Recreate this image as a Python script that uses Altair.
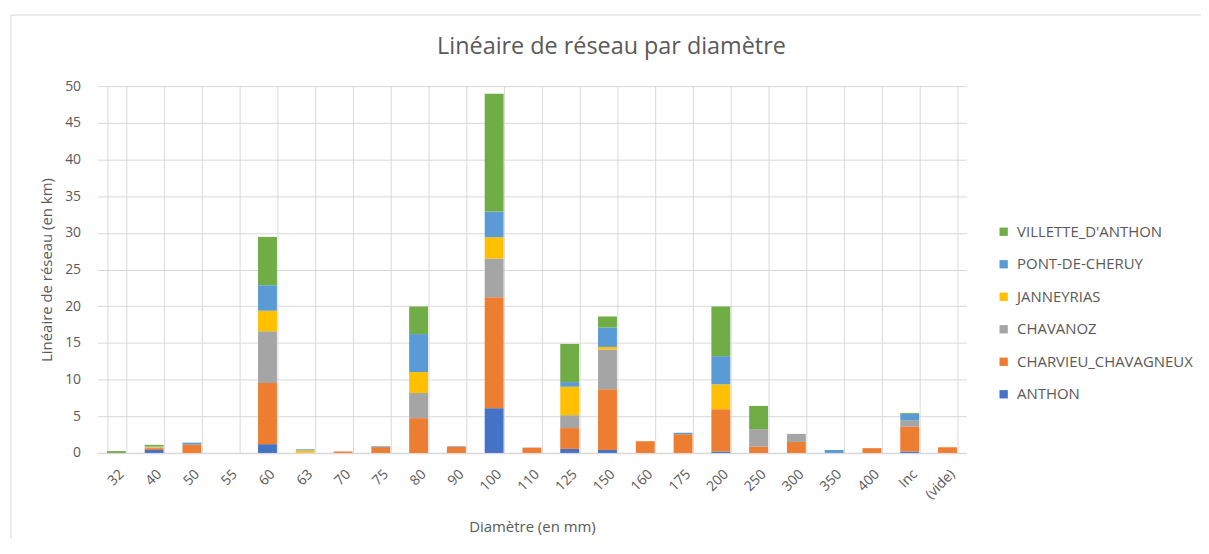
import altair as alt
import pandas as pd

categories = ["32", "40", "50", "55", "60", "63", "70", "75", "80", "90", "100", "110",
              "125", "150", "160", "175", "200", "250", "300", "350", "400", "Inc", "(vide)"]

ANTHON = [0, 0.4, 0, 0, 1.2, 0, 0, 0, 0, 0, 6.1, 0, 0.55, 0.4, 0, 0, 0.2, 0, 0, 0, 0, 0.2, 0]
CHARVIEU_CHAVAGNEUX = [0, 0.25, 1.15, 0, 8.33, 0.05, 0.2, 0.8, 4.74, 0.85, 15.13, 0.7, 2.84, 8.27,
                       1.6, 2.55, 5.76, 0.86, 1.5, 0, 0.65, 3.37, 0.77]
CHAVANOZ = [0, 0.1, 0, 0, 7.04, 0, 0, 0, 3.43, 0.05, 5.27, 0.05, 1.76, 5.43, 0, 0, 0, 2.39, 1.1,
            0, 0, 0.9, 0]
JANNEYRIAS = [0, 0.1, 0, 0, 2.81, 0.3, 0, 0, 2.85, 0, 2.9, 0, 3.88, 0.35, 0, 0, 3.39, 0, 0, 0,
              0, 0, 0]
PONT_DE_CHERUY = [0, 0.05, 0.25, 0, 3.48, 0.15, 0, 0.1, 5.18, 0.05, 3.5, 0, 0.63, 2.65, 0, 0.2,
                  3.84, 0, 0, 0.4, 0, 0.86, 0]
VILLETTE_D_ANTHON = [0.25, 0.2, 0, 0, 6.59, 0, 0, 0, 3.76, 0, 16.06, 0, 5.2, 1.5, 0, 0, 6.77,
                     3.16, 0, 0, 0, 0.13, 0]

series_names = ["ANTHON", "CHARVIEU_CHAVAGNEUX", "CHAVANOZ", "JANNEYRIAS", "PONT-DE-CHERUY",
                "VILLETTE_D'ANTHON"]
series_values = [ANTHON, CHARVIEU_CHAVAGNEUX, CHAVANOZ, JANNEYRIAS, PONT_DE_CHERUY,
                 VILLETTE_D_ANTHON]
series_colors = ["#4472C4", "#ED7D31", "#A5A5A5", "#FFC000", "#5B9BD5", "#70AD47"]

rows = []
for rank, (name, vals) in enumerate(zip(series_names, series_values)):
    for cat, v in zip(categories, vals):
        rows.append({"Diametre": cat, "Commune": name, "km": v, "rank": rank})
df = pd.DataFrame(rows)

legend_domain = list(reversed(series_names))
legend_range = list(reversed(series_colors))

grey = "#595959"
FONT = "Open Sans"

bars = alt.Chart(df).mark_bar().encode(
    x=alt.X("Diametre:N", sort=categories,
            scale=alt.Scale(paddingInner=0.5, paddingOuter=0.25),
            axis=alt.Axis(title="Diamètre (en mm)", labelAngle=-45, ticks=False,
                          tickBand="extent", grid=True, gridColor="#d9d9d9",
                          domainColor="#d9d9d9", domainWidth=1.5,
                          labelPadding=14, labelFontSize=14, labelColor=grey,
                          titleFontSize=15, titleColor=grey, titleFontWeight="normal",
                          titlePadding=18)),
    y=alt.Y("km:Q", stack="zero",
            scale=alt.Scale(domain=[0, 50], nice=False),
            axis=alt.Axis(title="Linéaire de réseau (en km)", values=list(range(0, 51, 5)),
                          ticks=False, domain=False, gridColor="#d9d9d9",
                          labelPadding=17, labelFontSize=14, labelColor=grey,
                          titleFontSize=15, titleColor=grey, titleFontWeight="normal",
                          titlePadding=10)),
    color=alt.Color("Commune:N",
                    scale=alt.Scale(domain=legend_domain, range=legend_range),
                    legend=alt.Legend(title=None, orient="none", legendX=904, legendY=139,
                                      symbolType="square", symbolSize=70,
                                      symbolStrokeWidth=0, labelFontSize=15,
                                      labelColor=grey, rowPadding=16.7, labelOffset=6,
                                      labelLimit=400)),
    order=alt.Order("rank:Q", sort="ascending"),
)

frame = alt.Chart(pd.DataFrame({"k": [0]})).mark_rect(
    fillOpacity=0, stroke="#d9d9d9", strokeWidth=1
).encode(x=alt.value(-87), x2=alt.value(1300), y=alt.value(-71.5), y2=alt.value(700))

chart = alt.layer(frame, bars).properties(
    width=874, height=369,
    title=alt.Title("Linéaire de réseau par diamètre", fontSize=23.5, color=grey,
                    font=FONT, fontWeight="normal", anchor="middle", dx=80, offset=-44),
    autosize=alt.AutoSizeParams(type="none"),
    padding={"left": 90, "top": 77, "right": 236, "bottom": 85},
).configure(font=FONT).configure_view(strokeWidth=0)

chart.save("out.html", embed_options={"renderer": "svg", "actions": False})
